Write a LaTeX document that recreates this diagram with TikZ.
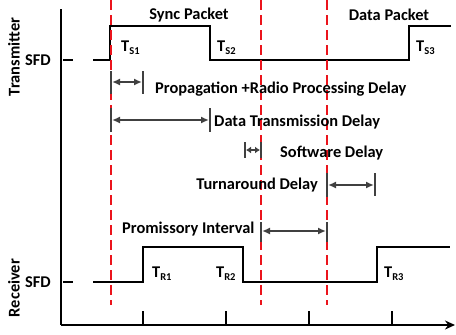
\documentclass[tikz,border=0pt]{standalone}
\usepackage{fontspec}
\setmainfont{Carlito}
\usetikzlibrary{arrows.meta}

\definecolor{markred}{RGB}{235,20,28}
\definecolor{dimgrey}{RGB}{64,64,64}

\newcommand\Tsub[1]{T\raisebox{-0.45ex}{\fontsize{10.5}{11}\selectfont #1}}

\tikzset{
  lbl/.style={font=\bfseries\fontsize{16.4}{18}\selectfont, inner sep=0pt},
  sig/.style={line width=2pt, black},
  axisline/.style={line width=2pt, black},
  marker/.style={markred, line width=2pt, dash pattern=on 10pt off 5pt},
  bar/.style={dimgrey, line width=2.6pt},
  span/.style={dimgrey, line width=2pt,
    {Latex[length=8pt,width=7pt]}-{Latex[length=8pt,width=7pt]},
    shorten <=1pt, shorten >=1pt},
}

\begin{document}
\begin{tikzpicture}[x=1pt, y=-1pt]
  \useasboundingbox (0,0) rectangle (456,335);

  % axes
  \coordinate (origin) at (61,325);
  \coordinate (ytop) at (61,9);
  \coordinate (xend) at (455,325);
  \draw[axisline] (ytop) -- (origin);
  \draw[axisline, -{Stealth[length=10pt,width=9pt]}] (origin) -- (xend);
  \foreach \x in {143,226,309,392}
    \draw[axisline] (\x,311) -- (\x,325);

  % transmitter SFD signal
  \draw[sig] (63,60) -- (73,60);
  \draw[sig] (93,60) -- (110,60) -- (110,26) -- (210,26) -- (210,60)
             -- (409,60) -- (409,26) -- (451,26);

  % receiver SFD signal
  \draw[sig] (63,282) -- (73,282);
  \draw[sig] (93,282) -- (143,282) -- (143,247) -- (243,247) -- (243,282)
             -- (377,282) -- (377,247) -- (450,247);

  % time markers
  \foreach \x in {111,261,327}
    \draw[marker] (\x,0) -- (\x,305);

  % row labels
  \node[lbl, rotate=90] (tx) at (14,57) {Transmitter};
  \node[lbl, rotate=90] (rx) at (14,288) {Receiver};
  \node[lbl] (sfdt) at (38,60) {SFD};
  \node[lbl] (sfdr) at (38,282) {SFD};

  % packet labels
  \node[lbl] (sync) at (189,15) {Sync Packet};
  \node[lbl] (data) at (389,15) {Data Packet};

  % timestamps
  \node[lbl, anchor=base west] (ts1) at (121,51) {\Tsub{S1}};
  \node[lbl, anchor=base west] (ts2) at (217,51) {\Tsub{S2}};
  \node[lbl, anchor=base west] (ts3) at (416,51) {\Tsub{S3}};
  \node[lbl, anchor=base west] (tr1) at (152,277) {\Tsub{R1}};
  \node[lbl, anchor=base west] (tr2) at (216,277) {\Tsub{R2}};
  \node[lbl, anchor=base west] (tr3) at (384,277) {\Tsub{R3}};

  % propagation + radio processing delay
  \draw[bar] (111,71) -- (111,94);
  \draw[bar] (143,71) -- (143,94);
  \coordinate (pa) at (111,82);
  \coordinate (pb) at (143,82);
  \draw[span] (pa) -- (pb);
  \node[lbl, anchor=west] (prop) at (155,89) {Propagation +Radio Processing Delay};

  % data transmission delay
  \draw[bar] (111,108) -- (111,132);
  \draw[bar] (210,108) -- (210,132);
  \coordinate (da) at (111,120);
  \coordinate (db) at (210,120);
  \draw[span] (da) -- (db);
  \node[lbl, anchor=west] (dtx) at (214,122) {Data Transmission Delay};

  % software delay
  \draw[bar] (245,142) -- (245,158);
  \draw[bar] (261,142) -- (261,158);
  \coordinate (sa) at (245,150);
  \coordinate (sb) at (261,150);
  \draw[span, {Latex[length=5pt,width=7pt]}-{Latex[length=5pt,width=7pt]}] (sa) -- (sb);
  \node[lbl, anchor=west] (sw) at (280,153) {Software Delay};

  % turnaround delay
  \draw[bar] (327,173) -- (327,197);
  \draw[bar] (375,173) -- (375,196);
  \coordinate (ta) at (327,185);
  \coordinate (tb) at (375,185);
  \draw[span] (ta) -- (tb);
  \node[lbl, anchor=east] (turn) at (318,185) {Turnaround Delay};

  % promissory interval
  \draw[bar] (261,222) -- (261,242);
  \draw[bar] (327,222) -- (327,242);
  \coordinate (ia) at (261,231);
  \coordinate (ib) at (327,231);
  \draw[span] (ia) -- (ib);
  \node[lbl, anchor=west] (prom) at (122,229) {Promissory Interval};
\end{tikzpicture}
\end{document}
